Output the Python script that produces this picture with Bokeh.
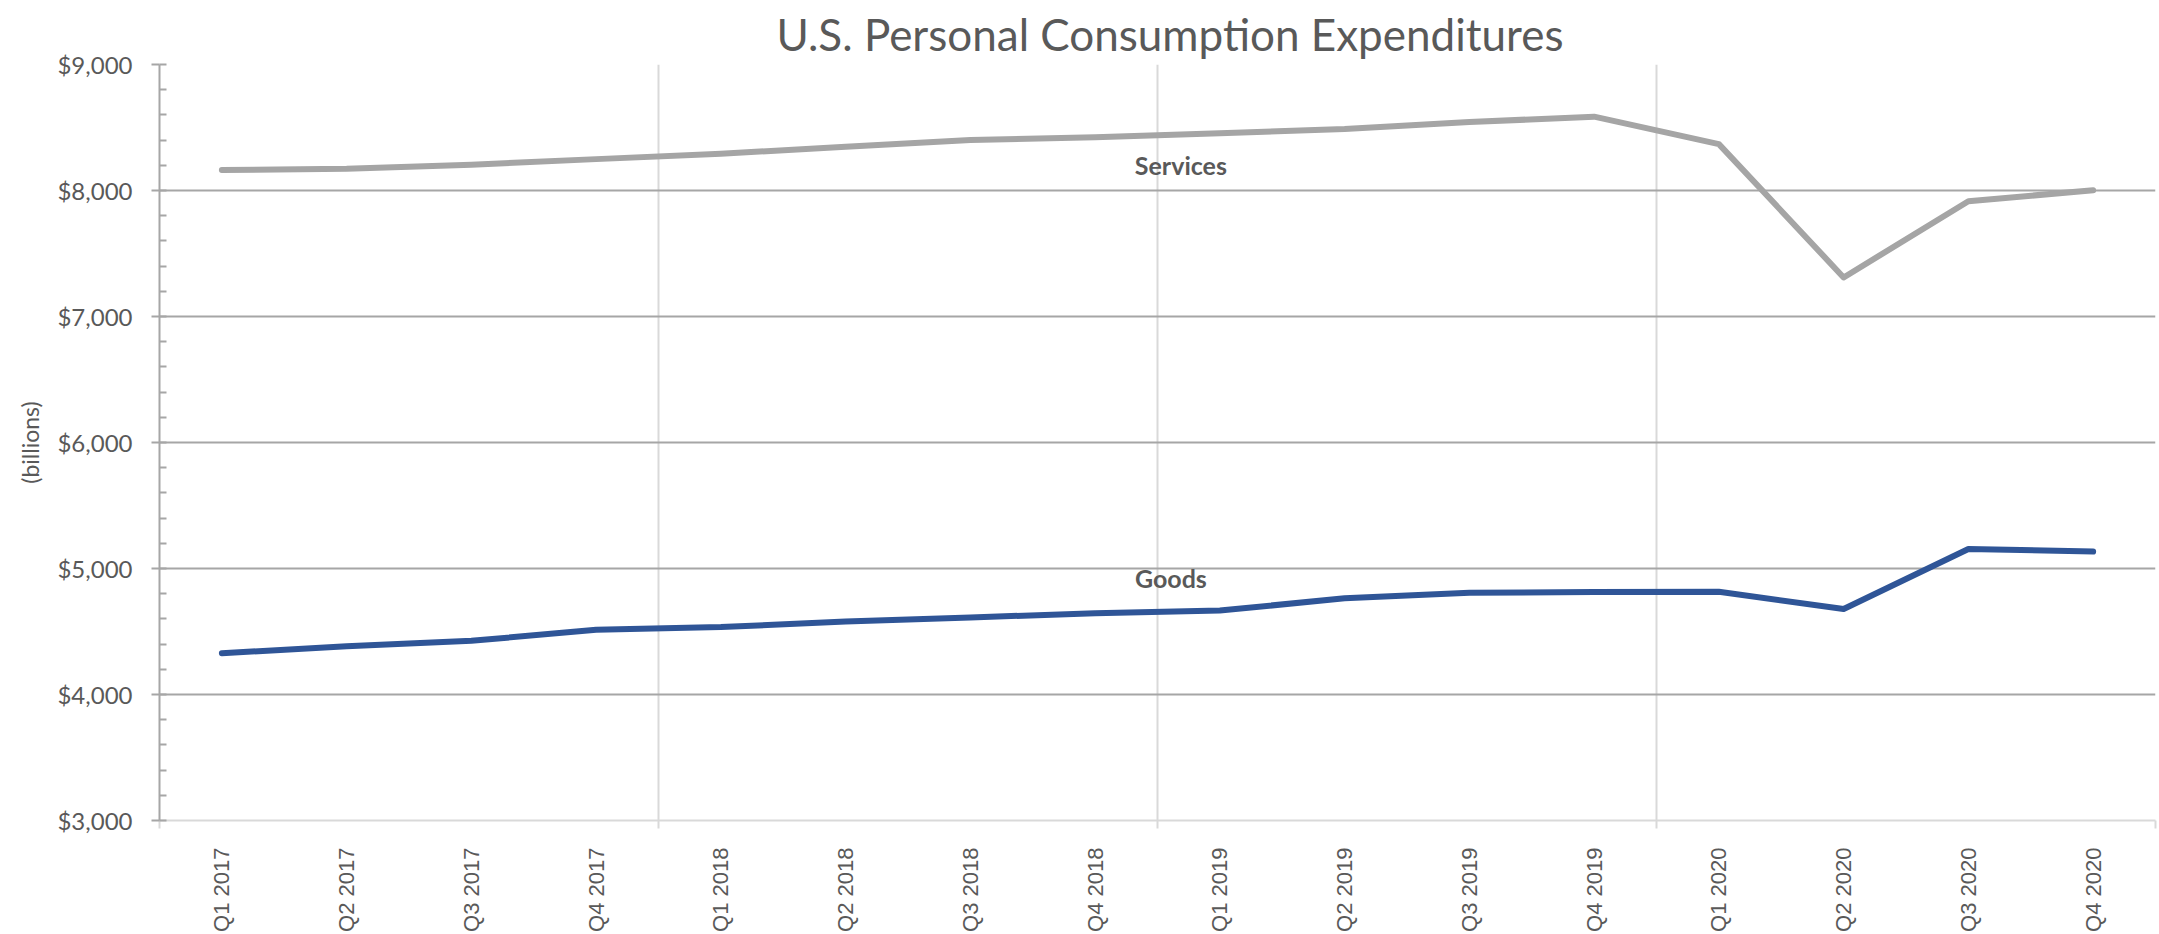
from bokeh.plotting import figure
from bokeh.models import FixedTicker, NumeralTickFormatter, Range1d
from bokeh.core.properties import value
from bokeh.embed import file_html
from bokeh.resources import INLINE

title_text = "U.S. Personal Consumption Expenditures"
categories = ["Q1 2017", "Q2 2017", "Q3 2017", "Q4 2017",
              "Q1 2018", "Q2 2018", "Q3 2018", "Q4 2018",
              "Q1 2019", "Q2 2019", "Q3 2019", "Q4 2019",
              "Q1 2020", "Q2 2020", "Q3 2020", "Q4 2020"]
services = [8162, 8172, 8205, 8249, 8292, 8347, 8400, 8423,
            8455, 8488, 8543, 8586, 8368, 7310, 7915, 8002]
goods = [4328, 4383, 4426, 4513, 4535, 4579, 4612, 4644,
         4666, 4764, 4808, 4813, 4815, 4678, 5155, 5134]
y_ticks = [3000, 4000, 5000, 6000, 7000, 8000, 9000]
label_cat = "Q1 2019"

xs = list(range(len(categories)))
n = len(categories)

p = figure(width=2159, height=934, output_backend="svg", toolbar_location=None,
           x_range=Range1d(-0.5, n - 0.5), y_range=Range1d(y_ticks[0], y_ticks[-1]),
           min_border_left=159, min_border_right=4, min_border_top=64, min_border_bottom=111,
           title=title_text)
p.outline_line_color = None
p.background_fill_color = "white"
p.border_fill_color = "white"

p.title.text_font = "Lato"
p.title.text_font_size = "44px"
p.title.text_font_style = "normal"
p.title.text_color = "#595959"
p.title.text_line_height = 0.4
p.title.align = "left"
p.title.vertical_align = "top"
p.title.offset = 617
p.title.standoff = 6

# x axis
xt = FixedTicker(ticks=xs, minor_ticks=[i - 0.5 for i in range(0, n + 1, 4)])
p.xaxis.ticker = xt
p.xaxis.major_label_overrides = {i: c for i, c in enumerate(categories)}
p.xaxis.major_label_orientation = 3.14159265 / 2
p.xaxis.major_label_text_font = "Liberation Sans"
p.xaxis.major_label_text_font_size = "22px"
p.xaxis.major_label_text_color = "#595959"
p.xaxis.major_tick_line_color = None
p.xaxis.major_tick_out = 0
p.xaxis.major_tick_in = 0
p.xaxis.minor_tick_line_color = "#D9D9D9"
p.xaxis.minor_tick_line_width = 2
p.xaxis.minor_tick_out = 8
p.xaxis.minor_tick_in = 0
p.xaxis.axis_line_color = "#D9D9D9"
p.xaxis.axis_line_width = 2
p.xaxis.major_label_standoff = 19

# y axis
yt = FixedTicker(ticks=y_ticks, minor_ticks=list(range(y_ticks[0], y_ticks[-1] + 1, 200)))
p.yaxis.ticker = yt
p.yaxis.formatter = NumeralTickFormatter(format="$0,0")
p.yaxis.major_label_text_font = "Lato"
p.yaxis.major_label_text_font_size = "24px"
p.yaxis.major_label_text_color = "#595959"
p.yaxis.axis_line_color = "#A6A6A6"
p.yaxis.axis_line_width = 2
p.yaxis.major_tick_line_color = "#A6A6A6"
p.yaxis.major_tick_line_width = 2
p.yaxis.major_tick_out = 8
p.yaxis.major_tick_in = 0
p.yaxis.minor_tick_line_color = "#A6A6A6"
p.yaxis.minor_tick_line_width = 2
p.yaxis.minor_tick_in = 7
p.yaxis.minor_tick_out = 0
p.yaxis.major_label_standoff = 19
p.yaxis.axis_label = "(billions)"
p.yaxis.axis_label_text_font = "Lato"
p.yaxis.axis_label_text_font_size = "23px"
p.yaxis.axis_label_text_font_style = "normal"
p.yaxis.axis_label_text_color = "#595959"
p.yaxis.axis_label_standoff = 10

# grids
p.xgrid.ticker = FixedTicker(ticks=[i - 0.5 for i in range(4, n + 1, 4)])
p.xgrid.grid_line_color = "#D9D9D9"
p.xgrid.grid_line_width = 2
p.ygrid.ticker = FixedTicker(ticks=y_ticks[1:])
p.ygrid.grid_line_color = "#A6A6A6"
p.ygrid.grid_line_width = 2

p.line(xs, services, line_color="#A5A5A5", line_width=6, line_cap="round", line_join="round")
p.line(xs, goods, line_color="#2F5597", line_width=6, line_cap="round", line_join="round")

li = categories.index(label_cat)
p.text(x=[li], y=[services[li]], text=["Services"], x_offset=-39, y_offset=32,
       text_font=value("Lato"), text_font_style="bold", text_font_size="25px",
       text_color="#595959", text_align="center", text_baseline="middle")
p.text(x=[li], y=[goods[li]], text=["Goods"], x_offset=-49, y_offset=-33,
       text_font=value("Lato"), text_font_style="bold", text_font_size="25px",
       text_color="#595959", text_align="center", text_baseline="middle")

open("out.html", "w").write(file_html(p, INLINE))
